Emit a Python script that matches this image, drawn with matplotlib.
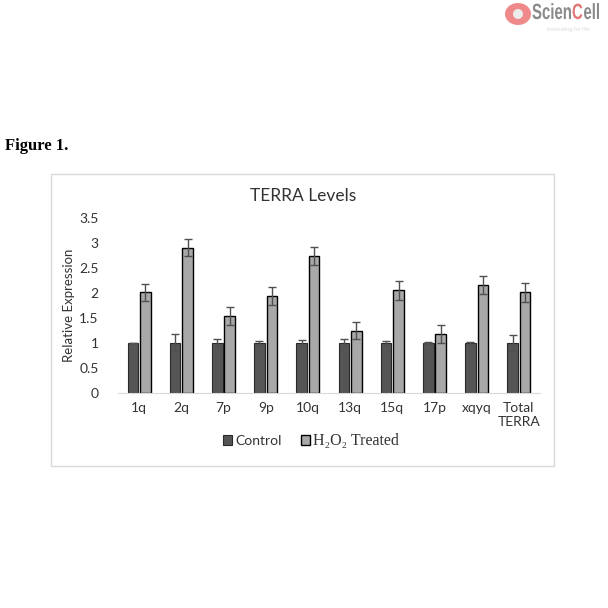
import numpy as np
import matplotlib
matplotlib.use('Agg')
import matplotlib.pyplot as plt
import matplotlib.patches as mpatches
from matplotlib.textpath import TextPath
from matplotlib.font_manager import FontProperties
from matplotlib.transforms import Affine2D, IdentityTransform

categories = ['1q', '2q', '7p', '9p', '10q', '13q', '15q', '17p', 'xqyq', 'Total\nTERRA']
control = [1.0, 1.0, 1.0, 1.0, 1.0, 1.0, 1.0, 1.0, 1.0, 1.0]
control_err = [0.0, 0.17, 0.08, 0.04, 0.06, 0.08, 0.04, 0.01, 0.02, 0.16]
treated = [2.01, 2.91, 1.53, 1.94, 2.74, 1.245, 2.05, 1.17, 2.16, 2.01]
treated_err = [0.18, 0.17, 0.18, 0.18, 0.18, 0.175, 0.19, 0.18, 0.18, 0.19]
y_ticks = [0, 0.5, 1, 1.5, 2, 2.5, 3, 3.5]

W = H = 608
SANS = 'Lato'
SERIF = 'Liberation Serif'
TXT = '#333333'


def px(x, y):
    # pixel coords (top-left origin) -> figure fraction
    return x / W, 1 - y / H


def main():
    fig = plt.figure(figsize=(6.08, 6.08), dpi=100)
    fig.patch.set_facecolor('white')

    # chart frame
    fx0, fy1 = px(51, 173.5)
    fx1, fy0 = px(554, 466)
    fig.patches.append(mpatches.Rectangle((fx0, fy0), fx1 - fx0, fy1 - fy0,
                                          transform=fig.transFigure, fill=False,
                                          edgecolor='#d9d9d9', linewidth=1.0))

    left, top = px(118, 218.3)
    right, bottom = px(540, 392.5)
    ax = fig.add_axes([left, bottom, right - left, top - bottom])

    x = np.arange(len(categories))
    w = 0.25
    off = 0.148
    ekw = dict(ecolor='#505050', elinewidth=1.0, capsize=3, capthick=1.0)
    ax.bar(x - off, control, w, color='#555555', edgecolor='#2a2a2a', linewidth=0.8,
           yerr=control_err, error_kw=ekw)
    ax.bar(x + off, treated, w, color='#a8a8a8', edgecolor='black', linewidth=1.0,
           yerr=treated_err, error_kw=ekw)

    ax.set_xlim(-0.5, len(categories) - 0.5)
    ax.set_ylim(0, 3.5)
    ax.set_yticks(y_ticks)
    ax.set_yticklabels([f'{t:g}' for t in y_ticks], fontsize=10, family=SANS, color=TXT)
    ax.set_xticks(x)
    ax.set_xticklabels(categories, fontsize=10, family=SANS, color=TXT, linespacing=1.15)
    ax.tick_params(axis='both', length=0)
    ax.tick_params(axis='y', pad=14)
    ax.tick_params(axis='x', pad=7)
    for s in ['top', 'right', 'left']:
        ax.spines[s].set_visible(False)
    ax.spines['bottom'].set_color('#d9d9d9')
    ax.set_ylabel('Relative Expression', fontsize=9.5, family=SANS, color=TXT)
    ax.yaxis.set_label_coords(-0.102, 0.5)

    fig.text(*px(303, 196), 'TERRA Levels', ha='center', va='center',
             fontsize=12.5, family=SANS, color=TXT)

    # legend
    handles = [mpatches.Patch(facecolor='#555555', edgecolor='#2a2a2a', linewidth=0.8),
               mpatches.Patch(facecolor='#a8a8a8', edgecolor='black', linewidth=1.0)]
    leg = fig.legend(handles, ['Control', 'H\u2082O\u2082 Treated'], loc='center',
                     bbox_to_anchor=px(311, 441), ncol=2, frameon=False,
                     handlelength=0.65, handleheight=0.65, handletextpad=0.25,
                     columnspacing=1.4, fontsize=10)
    t0, t1 = leg.get_texts()
    t0.set_family(SANS)
    t0.set_color(TXT)
    t1.set_family(SERIF)
    t1.set_fontsize(11.5)
    t1.set_color(TXT)

    fig.text(*px(5, 146), 'Figure 1.', ha='left', va='center',
             fontsize=12, family=SERIF, fontweight='bold')

    # logo
    cx, cy = px(518, 14)
    fig.patches.append(mpatches.Ellipse((cx, cy), 26 / W, 22 / H, transform=fig.transFigure,
                                        facecolor='#f08a8a', edgecolor='none'))
    fig.patches.append(mpatches.Circle((cx, cy), 5 / W, transform=fig.transFigure,
                                       facecolor='#ececec', edgecolor='none'))
    prop = FontProperties(family='Liberation Sans', weight='bold')
    sx = 0.68
    xpos = 532.0
    base = H - 19.0
    for part, col in [('Scien', '#8a8a8a'), ('C', '#e07878'), ('ell', '#8a8a8a')]:
        tp = TextPath((0, 0), part, size=22, prop=prop)
        tr = Affine2D().scale(sx, 1).translate(xpos, base)
        fig.patches.append(mpatches.PathPatch(tr.transform_path(tp), transform=IdentityTransform(),
                                              facecolor=col, edgecolor='none'))
        xpos += (tp.get_extents().x1 + 1.5) * sx
    fig.text(*px(568, 29), 'innovating for life', ha='center', va='center',
             fontsize=4, family=SANS, color='#d8d8d8')

    fig.savefig('out.png', dpi=100, facecolor='white')
    plt.close('all')


if __name__ == '__main__':
    main()
